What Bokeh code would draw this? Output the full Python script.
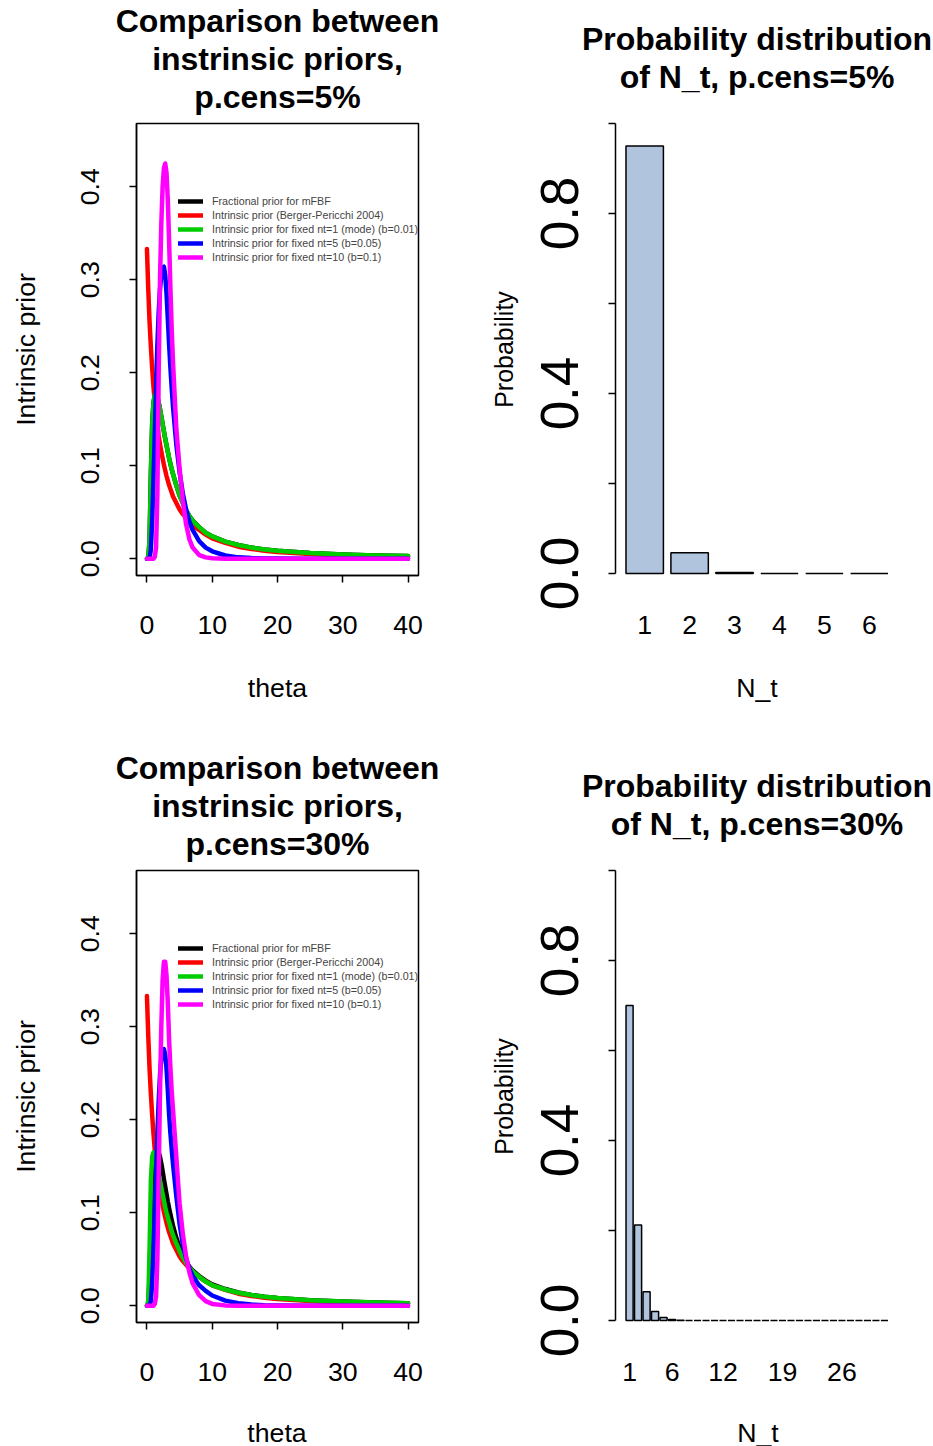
from bokeh.plotting import figure
from bokeh.layouts import column, row
from bokeh.models import (Legend, LegendItem, FixedTicker, Range1d, Title, Div,
                          PrintfTickFormatter)
from bokeh.embed import file_html
from bokeh.resources import INLINE

FONT = "Liberation Sans"

# ---------------- data ----------------
theta = [0, 0.2, 0.4, 0.6, 0.8, 1.0, 1.2, 1.4, 1.6, 1.8, 2.0, 2.2, 2.4, 2.6, 2.8,
         3.0, 3.2, 3.4, 3.6, 3.8, 4.0, 4.5, 5.0, 5.5, 6.0, 6.5, 7.0, 8.0, 9.0, 10,
         12, 14, 16, 18, 20, 25, 30, 35, 40]

# Intrinsic prior (Berger-Pericchi 2004) - same in both panels
bp_prior = [0.333, 0.290, 0.255, 0.228, 0.205, 0.185, 0.168, 0.155, 0.143, 0.132,
            0.123, 0.115, 0.108, 0.101, 0.095, 0.089, 0.084, 0.079, 0.075, 0.071,
            0.067, 0.060, 0.053, 0.048, 0.044, 0.040, 0.036, 0.031, 0.026, 0.022,
            0.017, 0.013, 0.0105, 0.0087, 0.0073, 0.005, 0.0036, 0.0027, 0.0021]

# p.cens = 5%
fbf_5 = [0, 0.0, 0.02, 0.09, 0.145, 0.168, 0.176, 0.177, 0.174, 0.168,
         0.161, 0.153, 0.145, 0.137, 0.129, 0.122, 0.115, 0.108, 0.102, 0.096,
         0.091, 0.079, 0.068, 0.060, 0.052, 0.046, 0.041, 0.034, 0.028, 0.024,
         0.0185, 0.0148, 0.012, 0.0100, 0.0086, 0.0062, 0.0046, 0.0036, 0.0029]
nt1_5 = [0, 0.0, 0.02, 0.09, 0.145, 0.168, 0.176, 0.177, 0.174, 0.168,
         0.161, 0.153, 0.145, 0.137, 0.129, 0.122, 0.115, 0.108, 0.102, 0.096,
         0.091, 0.079, 0.068, 0.060, 0.052, 0.046, 0.041, 0.034, 0.028, 0.024,
         0.0185, 0.0148, 0.012, 0.0100, 0.0086, 0.0062, 0.0046, 0.0036, 0.0029]
nt5_5 = [0, 0, 0.0, 0.01, 0.04, 0.085, 0.135, 0.185, 0.23, 0.265,
         0.29, 0.305, 0.313, 0.314, 0.305, 0.285, 0.258, 0.23, 0.205, 0.183,
         0.163, 0.123, 0.093, 0.07, 0.053, 0.04, 0.031, 0.019, 0.012, 0.008,
         0.0035, 0.0015, 0.0007, 0.0003, 0.0002, 0.0001, 0, 0, 0]
nt10_5 = [0, 0, 0, 0, 0, 0, 0.002, 0.012, 0.07, 0.2,
          0.3, 0.36, 0.4, 0.42, 0.425, 0.415, 0.385, 0.34, 0.29, 0.245,
          0.21, 0.14, 0.097, 0.062, 0.037, 0.021, 0.012, 0.004, 0.0015, 0.0005,
          0.0001, 0, 0, 0, 0, 0, 0, 0, 0]

# p.cens = 30%
fbf_30 = [0, 0.0, 0.03, 0.09, 0.13, 0.152, 0.162, 0.166, 0.167, 0.165,
          0.16, 0.153, 0.145, 0.136, 0.128, 0.12, 0.112, 0.105, 0.098, 0.092,
          0.086, 0.073, 0.063, 0.054, 0.047, 0.042, 0.038, 0.032, 0.027, 0.023,
          0.018, 0.0143, 0.0117, 0.0098, 0.0084, 0.006, 0.0045, 0.0035, 0.0028]
nt1_30 = [0, 0.005, 0.06, 0.135, 0.16, 0.165, 0.162, 0.156, 0.149, 0.141,
          0.134, 0.127, 0.12, 0.113, 0.106, 0.1, 0.095, 0.09, 0.085, 0.08,
          0.076, 0.067, 0.059, 0.052, 0.046, 0.041, 0.037, 0.031, 0.026, 0.022,
          0.0175, 0.014, 0.0115, 0.0097, 0.0083, 0.006, 0.0045, 0.0035, 0.0028]
nt5_30 = [0, 0, 0, 0.005, 0.025, 0.06, 0.1, 0.145, 0.185, 0.22,
          0.248, 0.266, 0.275, 0.276, 0.27, 0.255, 0.232, 0.205, 0.185, 0.168,
          0.152, 0.118, 0.088, 0.066, 0.051, 0.04, 0.032, 0.022, 0.016, 0.011,
          0.0055, 0.0027, 0.0013, 0.0006, 0.0003, 0.0001, 0, 0, 0]
nt10_30 = [0, 0, 0, 0, 0, 0, 0.002, 0.01, 0.05, 0.14,
           0.23, 0.3, 0.35, 0.37, 0.37, 0.355, 0.325, 0.285, 0.255, 0.23,
           0.21, 0.16, 0.11, 0.077, 0.053, 0.036, 0.024, 0.0115, 0.005, 0.002,
           0.0004, 0.0001, 0, 0, 0, 0, 0, 0, 0]

legend_labels = ["Fractional prior for mFBF",
                 "Intrinsic prior (Berger-Pericchi 2004)",
                 "Intrinsic prior for fixed nt=1 (mode) (b=0.01)",
                 "Intrinsic prior for fixed nt=5 (b=0.05)",
                 "Intrinsic prior for fixed nt=10 (b=0.1)"]
curve_colors = ["black", "#FF0000", "#00CD00", "#0000FF", "#FF00FF"]

# Probability distribution of N_t
nt_5 = [1, 2, 3, 4, 5, 6]
prob_5 = [0.950, 0.046, 0.002, 0.0, 0.0, 0.0]
nt_5_shown = [1, 2, 3, 4, 5, 6]

nt_30 = [1, 2, 3, 4, 5, 6, 7, 8, 9, 10, 11, 12, 13, 14, 15, 16, 17, 18, 19, 20,
         21, 22, 23, 24, 25, 26, 27, 28, 29, 30, 31]
prob_30 = [0.700, 0.212, 0.064, 0.020, 0.0066, 0.002, 0.0005, 0.0, 0.0, 0.0,
           0.0, 0.0, 0.0, 0.0, 0.0, 0.0, 0.0, 0.0, 0.0, 0.0,
           0.0, 0.0, 0.0, 0.0, 0.0, 0.0, 0.0, 0.0, 0.0, 0.0, 0.0]
nt_30_shown = [1, 6, 12, 19, 26]

title_line_5 = ["Comparison between", "instrinsic priors,", "p.cens=5%"]
title_line_30 = ["Comparison between", "instrinsic priors,", "p.cens=30%"]
title_bar_5 = ["Probability distribution", "of N_t, p.cens=5%"]
title_bar_30 = ["Probability distribution", "of N_t, p.cens=30%"]
xlabel_line = "theta"
xlabel_bar = "N_t"

TOP_H = 747
BOT_H = 659       # bottom-row plots; a 40px strip below carries the x titles
STRIP_H = 40
FRAME_TOP = 123
FRAME_H = 452


def style_axis(ax, size="26.7px"):
    ax.major_tick_out = 7
    ax.major_tick_in = 0
    ax.minor_tick_out = 0
    ax.minor_tick_in = 0
    ax.major_tick_line_width = 1.5
    ax.major_tick_line_color = "black"
    ax.axis_line_width = 1.5
    ax.axis_line_color = "black"
    ax.major_label_text_font = FONT
    ax.major_label_text_font_size = size
    ax.major_label_text_color = "black"
    ax.axis_label_text_font = FONT
    ax.axis_label_text_font_size = "26.7px"
    ax.axis_label_text_font_style = "normal"
    ax.axis_label_text_color = "black"


def add_title(p, lines, gap):
    # invisible spacer next to the frame, then the lines from the bottom one up
    p.add_layout(Title(text=" ", text_font_size="1px", standoff=gap), "above")
    for t in reversed(lines):
        p.add_layout(Title(text=t, align="center", vertical_align="top",
                           text_font=FONT, text_font_size="32px",
                           text_font_style="bold", text_color="black",
                           standoff=0), "above")


def line_panel(series, titles, fig_h, xlabel):
    p = figure(width=466, height=fig_h, output_backend="svg", toolbar_location=None,
               x_range=Range1d(-1.6, 41.6), y_range=Range1d(-0.018, 0.468),
               min_border_left=136, min_border_right=48,
               min_border_top=FRAME_TOP, min_border_bottom=fig_h - FRAME_TOP - FRAME_H,
               title=None)
    p.grid.visible = False
    p.outline_line_color = "black"
    p.outline_line_width = 1.5
    p.background_fill_color = "white"
    p.border_fill_color = "white"
    xa = p.xaxis[0]
    ya = p.yaxis[0]
    xa.ticker = FixedTicker(ticks=[0, 10, 20, 30, 40])
    ya.ticker = FixedTicker(ticks=[0.0, 0.1, 0.2, 0.3, 0.4])
    ya.formatter = PrintfTickFormatter(format="%.1f")
    style_axis(xa)
    style_axis(ya)
    if xlabel:
        xa.axis_label = xlabel
    ya.axis_label = "Intrinsic prior"
    xa.major_label_standoff = 33
    xa.axis_label_standoff = 36
    ya.major_label_orientation = "vertical"
    ya.major_label_standoff = 30
    ya.axis_label_standoff = 38
    renderers = []
    for ys, col in zip(series, curve_colors):
        r = p.line(theta, ys, line_color=col, line_width=4.5, line_join="round",
                   line_cap="round")
        renderers.append(r)
    legend = Legend(items=[LegendItem(label=lab, renderers=[r])
                           for lab, r in zip(legend_labels, renderers)],
                    location=(42, FRAME_H - 141), orientation="vertical",
                    padding=0, margin=0, spacing=0, glyph_width=25, glyph_height=14,
                    label_height=14, label_standoff=9, label_text_font=FONT,
                    label_text_font_size="10.7px", border_line_color=None,
                    background_fill_alpha=0)
    p.add_layout(legend)
    add_title(p, titles, 4.2)
    return p


def bar_panel(nt, probs, shown, titles, fig_h, xr, xlabel):
    p = figure(width=467, height=fig_h, output_backend="svg", toolbar_location=None,
               x_range=Range1d(*xr), y_range=Range1d(-0.0044, 1.0),
               min_border_left=149, min_border_right=35,
               min_border_top=FRAME_TOP, min_border_bottom=fig_h - FRAME_TOP - 454,
               title=None)
    p.grid.visible = False
    p.outline_line_color = None
    p.background_fill_color = "white"
    p.border_fill_color = "white"
    p.vbar(x=nt, top=probs, bottom=0, width=1 / 1.2, fill_color="#B0C4DE",
           line_color="black", line_width=1.5)
    xa = p.xaxis[0]
    ya = p.yaxis[0]
    style_axis(xa)
    style_axis(ya, size="53px")
    xa.ticker = FixedTicker(ticks=shown)
    xa.axis_line_color = None
    xa.major_tick_line_color = None
    xa.major_tick_out = 0
    xa.major_label_standoff = 40
    if xlabel:
        xa.axis_label = xlabel
    xa.axis_label_standoff = 36
    ya.ticker = FixedTicker(ticks=[0.0, 0.4, 0.8], minor_ticks=[0.2, 0.6, 1.0])
    ya.formatter = PrintfTickFormatter(format="%.1f")
    ya.minor_tick_out = 7
    ya.minor_tick_line_width = 1.5
    ya.minor_tick_line_color = "black"
    ya.bounds = (0, 1)
    ya.major_label_orientation = "vertical"
    ya.major_label_standoff = 30
    ya.axis_label = "Probability"
    ya.axis_label_text_font_size = "25px"
    ya.axis_label_standoff = 21
    add_title(p, titles, 23.7)
    return p


def strip(text, width, center):
    pad = 2 * center - width
    html = ('<div style="margin-left:%dpx;width:%dpx;text-align:center;'
            'font-family:\'Liberation Sans\';font-size:26.7px;line-height:30px;'
            'padding-top:12px;color:black;white-space:nowrap">%s</div>'
            % (pad, width - pad, text))
    return Div(text=html, width=width, height=STRIP_H, margin=0)


p1 = line_panel([fbf_5, bp_prior, nt1_5, nt5_5, nt10_5], title_line_5, TOP_H,
                xlabel_line)
p2 = bar_panel(nt_5, prob_5, nt_5_shown, title_bar_5, TOP_H, (0.35, 6.65), xlabel_bar)
p3 = line_panel([fbf_30, bp_prior, nt1_30, nt5_30, nt10_30], title_line_30, BOT_H,
                None)
p4 = bar_panel(nt_30, prob_30, nt_30_shown, title_bar_30, BOT_H,
               (-0.6567, 32.6567), None)
d3 = strip(xlabel_line, 466, 277)
d4 = strip(xlabel_bar, 467, 292)

layout = column(row(p1, p2), row(p3, p4), row(d3, d4))
open("out.html", "w").write(file_html(layout, INLINE))
